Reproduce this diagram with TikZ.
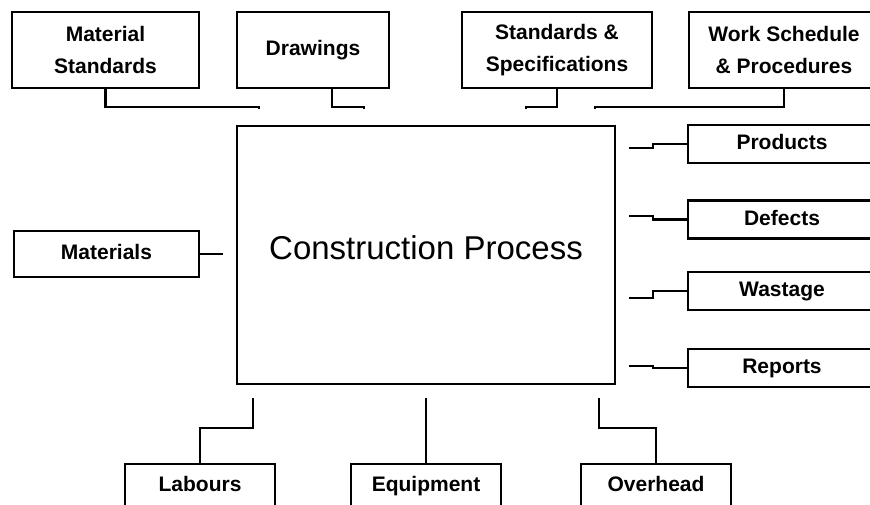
\documentclass[tikz,border=0pt]{standalone}
\usepackage{fontspec}
\setmainfont{Liberation Sans}
\usepackage{tikz}

\begin{document}
\begin{tikzpicture}[
  x=1pt, y=-1pt,
  line width=2.2pt,
  blk/.style={draw, inner sep=0pt, align=center,
    font={\bfseries\fontsize{21}{32}\selectfont}},
  oneline/.style={text height=15pt, text depth=4pt},
  topbox/.style={blk, minimum height=76pt},
  outbox/.style={blk, oneline, minimum width=188pt, minimum height=38pt},
  inbox/.style={blk, oneline, minimum width=150pt, minimum height=44pt},
  process/.style={draw, inner sep=0pt, minimum width=378pt,
    minimum height=258pt, text depth=14pt,
    font={\fontsize{33}{38}\selectfont}},
  ]
  \useasboundingbox (0,0) rectangle (870,504);
  \clip (0,0) rectangle (870,504);
  % Main process box
  \node[process] (proc) at (426,255) {Construction Process};
  % Top boxes
  \node[topbox, minimum width=187pt] (matstd) at (105.5,50) {Material\\Standards};
  \node[topbox, oneline, minimum width=152pt] (drw) at (313,50) {Drawings};
  \node[topbox, minimum width=190pt] (stdspec) at (557,50) {Standards \&\\Specifications};
  \node[topbox, minimum width=190pt] (worksch) at (784,50) {Work Schedule\\\& Procedures};
  % Left box
  \node[blk, oneline, minimum width=185pt, minimum height=46pt] (mat) at (106.5,254) {Materials};
  % Right boxes
  \node[outbox] (prod) at (782,144) {Products};
  \node[outbox] (def) at (782,219.5) {Defects};
  \node[outbox] (wst) at (782,291) {Wastage};
  \node[outbox] (rep) at (782,368) {Reports};
  % Bottom boxes
  \node[inbox] (lab) at (200,486) {Labours};
  \node[inbox] (equ) at (426,486) {Equipment};
  \node[inbox] (ovh) at (656,486) {Overhead};
  % Free ends near the process box
  \coordinate (matstd-in) at (259,109);
  \coordinate (drw-in) at (364,109);
  \coordinate (stdspec-in) at (526,109);
  \coordinate (worksch-in) at (595,109);
  \coordinate (mat-in) at (223,254);
  \coordinate (prod-out) at (629,148);
  \coordinate (def-out) at (629,216);
  \coordinate (wst-out) at (629,298);
  \coordinate (rep-out) at (629,366);
  \coordinate (lab-in) at (253,398);
  \coordinate (equ-in) at (426,398);
  \coordinate (ovh-in) at (599,398);
  % Inputs from above
  \draw (matstd.south) -- ++(0,18) -| (matstd-in);
  \draw ([xshift=19pt]drw.south) -- ++(0,18) -| (drw-in);
  \draw (stdspec.south) -- ++(0,18) -| (stdspec-in);
  \draw (worksch.south) -- ++(0,18) -| (worksch-in);
  % Input from the left
  \draw (mat.east) -- (mat-in);
  % Outputs to the right
  \draw (prod-out) -- ++(24,0) |- (prod.west);
  \draw (def-out) -- ++(24,0) |- (def.west);
  \draw (wst-out) -- ++(24,0) |- (wst.west);
  \draw (rep-out) -- ++(24,0) |- (rep.west);
  % Resources from below
  \draw (lab-in) -- ++(0,30) -| (lab.north);
  \draw (equ-in) -- (equ.north);
  \draw (ovh-in) -- ++(0,30) -| (ovh.north);
\end{tikzpicture}
\end{document}
